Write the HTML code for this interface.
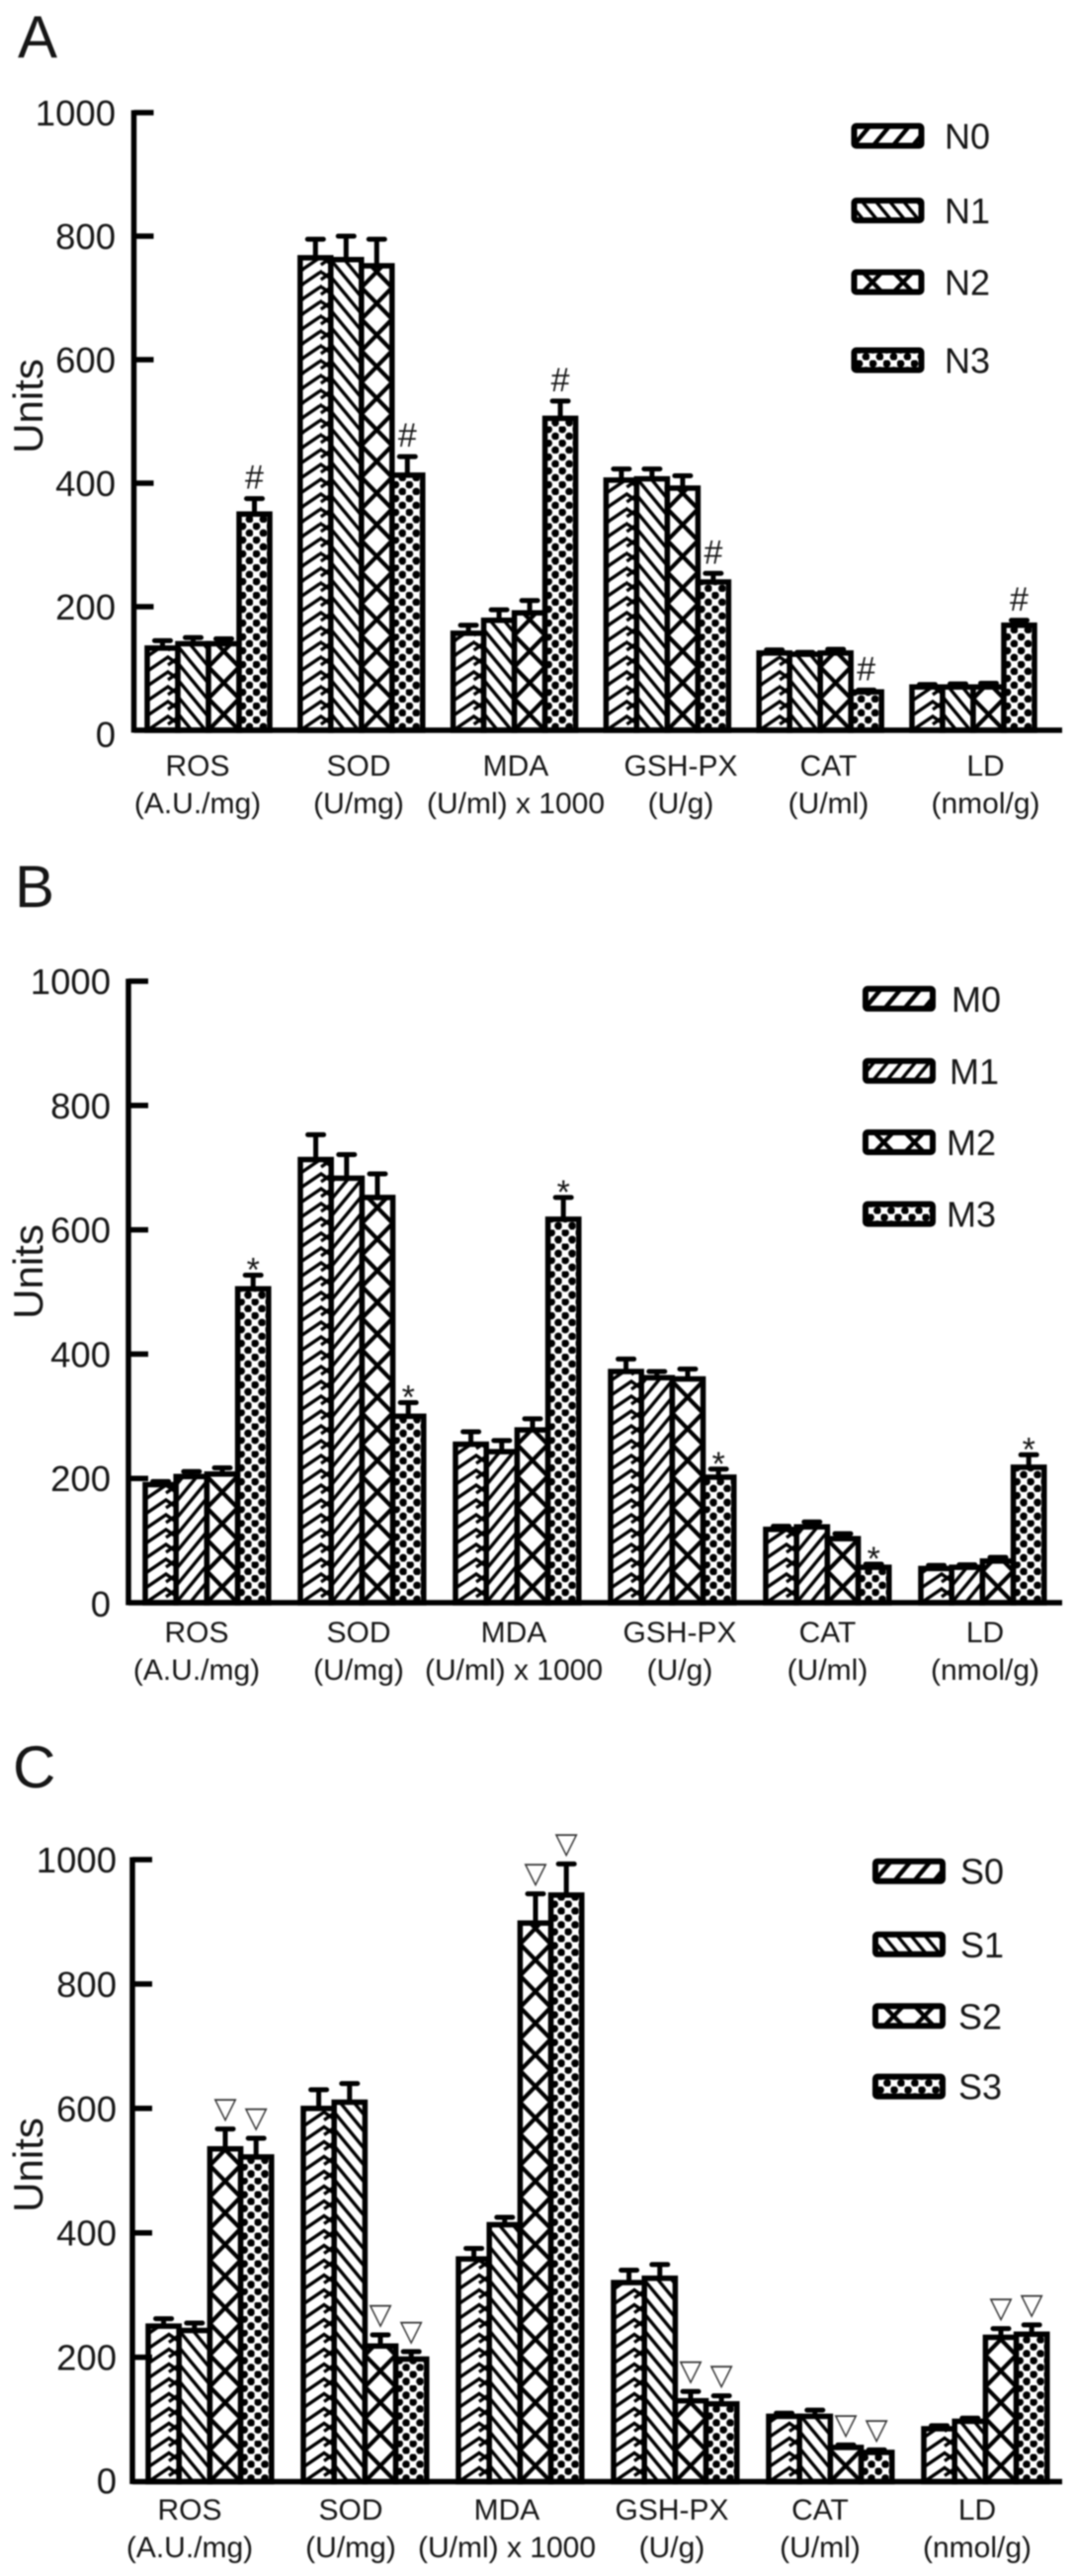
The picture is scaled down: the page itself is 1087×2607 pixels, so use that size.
<!DOCTYPE html>
<html lang="en">
<head>
<meta charset="utf-8">
<title>Units by marker, panels A, B and C</title>
<style>
  html, body { margin: 0; padding: 0; background: #fff; }
  body { width: 1087px; height: 2607px; overflow: hidden; }
  svg { display: block; filter: blur(0.7px); }
  text { font-family: "Liberation Sans", Arial, sans-serif; fill: #161616; }
</style>
</head>
<body>
<svg id="chart" xmlns="http://www.w3.org/2000/svg" width="1087" height="2607" viewBox="0 0 1087 2607">
  <defs>
    <pattern id="hatch-brick" patternUnits="userSpaceOnUse" width="30" height="15">
      <rect width="30" height="15" fill="#fff"/>
      <path d="M-1 1 L21 -14 L31 -7 M21 -6 L31 -13 M-1 16 L21 1 L31 8 M21 9 L31 2 M-1 31 L21 16 L31 23 M21 24 L31 17" fill="none" stroke="#000" stroke-width="3.4"/>
    </pattern>
    <pattern id="hatch-legend" patternUnits="userSpaceOnUse" width="20" height="24">
      <rect width="20" height="24" fill="#fff"/>
      <path d="M-10 36 L30 -12 M-10 12 L10 -12 M10 36 L30 12" fill="none" stroke="#000" stroke-width="4.4"/>
    </pattern>
    <pattern id="hatch-back" patternUnits="userSpaceOnUse" width="14" height="17">
      <rect width="14" height="17" fill="#fff"/>
      <path d="M-7 -8.5 L21 25.5 M-7 8.5 L7 25.5 M7 -8.5 L21 8.5" fill="none" stroke="#000" stroke-width="3.4"/>
    </pattern>
    <pattern id="hatch-forward" patternUnits="userSpaceOnUse" width="14" height="17">
      <rect width="14" height="17" fill="#fff"/>
      <path d="M-7 25.5 L21 -8.5 M-7 8.5 L7 -8.5 M7 25.5 L21 8.5" fill="none" stroke="#000" stroke-width="3.4"/>
    </pattern>
    <pattern id="hatch-cross" patternUnits="userSpaceOnUse" width="31" height="32">
      <rect width="31" height="32" fill="#fff"/>
      <path d="M0 0 L31 32 M31 0 L0 32" fill="none" stroke="#000" stroke-width="4.2"/>
    </pattern>
    <pattern id="hatch-dots" patternUnits="userSpaceOnUse" width="14" height="14">
      <rect width="14" height="14" fill="#fff"/>
      <circle cx="3.5" cy="3.5" r="3.9" fill="#000"/>
      <circle cx="10.5" cy="10.5" r="3.9" fill="#000"/>
    </pattern>
  </defs>
  <g id="plot-root"></g>
</svg>

<script>
// Shared labels
const categories = ['ROS', 'SOD', 'MDA', 'GSH-PX', 'CAT', 'LD'];
const categoryUnits = ['(A.U./mg)', '(U/mg)', '(U/ml) x 1000', '(U/g)', '(U/ml)', '(nmol/g)'];
const tickLabels = [0, 200, 400, 600, 800, 1000];

// Panel A
const seriesNamesA = ['N0', 'N1', 'N2', 'N3'];
const n0Values = [133, 765, 157, 405, 125, 70];
const n1Values = [140, 762, 178, 407, 123, 70];
const n2Values = [140, 752, 190, 392, 125, 70];
const n3Values = [350, 413, 505, 240, 62, 170];
const n0Errors = [12, 30, 13, 18, 5, 4];
const n1Errors = [10, 38, 17, 16, 3, 5];
const n2Errors = [8, 43, 20, 20, 6, 6];
const n3Errors = [25, 30, 28, 14, 3, 8];

// Panel B
const seriesNamesB = ['M0', 'M1', 'M2', 'M3'];
const m0Values = [190, 713, 255, 372, 118, 55];
const m1Values = [203, 683, 243, 362, 122, 57];
const m2Values = [207, 652, 278, 360, 103, 67];
const m3Values = [505, 300, 617, 202, 57, 218];
const m0Errors = [5, 40, 20, 20, 5, 5];
const m1Errors = [8, 38, 18, 10, 8, 4];
const m2Errors = [10, 38, 18, 16, 8, 6];
const m3Errors = [22, 22, 35, 13, 5, 20];

// Panel C
const seriesNamesC = ['S0', 'S1', 'S2', 'S3'];
const s0Values = [250, 600, 358, 320, 105, 85];
const s1Values = [243, 610, 413, 327, 105, 97];
const s2Values = [535, 218, 898, 130, 55, 232];
const s3Values = [522, 197, 943, 125, 47, 237];
const s0Errors = [12, 30, 17, 20, 5, 5];
const s1Errors = [12, 30, 12, 22, 10, 5];
const s2Errors = [32, 18, 47, 15, 4, 14];
const s3Errors = [30, 12, 50, 13, 4, 15];

const SVG_NS = 'http://www.w3.org/2000/svg';
const root = document.getElementById('plot-root');

function make(tag, attrs, parent) {
  const node = document.createElementNS(SVG_NS, tag);
  Object.keys(attrs).forEach(function (key) { node.setAttribute(key, attrs[key]); });
  parent.appendChild(node);
  return node;
}

const panels = [
  {
    id: 'a', letter: 'A', letterX: 18, letterY: 58,
    axisX: 135.5, axisY0: 739, axisY1000: 114, axisEnd: 1075,
    groupLeft: 149, groupPitch: 154.8, barWidth: 31,
    tickRight: 117, zeroDrop: 17, unitsY: 411,
    labelFirstY: 785, labelSecondY: 823,
    labelCentres: [200, 363, 522, 689, 838.5, 997.5],
    names: seriesNamesA,
    values: [n0Values, n1Values, n2Values, n3Values],
    errors: [n0Errors, n1Errors, n2Errors, n3Errors],
    hatches: ['hatch-brick', 'hatch-back', 'hatch-cross', 'hatch-dots'],
    legendHatches: ['hatch-legend', 'hatch-back', 'hatch-cross', 'hatch-dots'],
    marker: '#', markedSeries: [3],
    legendLeft: 864.5, legendTextX: [956, 956, 956, 956],
    legendCentres: [137.5, 213, 285.5, 364.5]
  },
  {
    id: 'b', letter: 'B', letterX: 15, letterY: 918,
    axisX: 130, axisY0: 1622, axisY1000: 993, axisEnd: 1075,
    groupLeft: 147, groupPitch: 157, barWidth: 31.2,
    tickRight: 112, zeroDrop: 14, unitsY: 1287,
    labelFirstY: 1662, labelSecondY: 1700,
    labelCentres: [199, 363, 520, 688, 837.5, 997],
    names: seriesNamesB,
    values: [m0Values, m1Values, m2Values, m3Values],
    errors: [m0Errors, m1Errors, m2Errors, m3Errors],
    hatches: ['hatch-brick', 'hatch-forward', 'hatch-cross', 'hatch-dots'],
    legendHatches: ['hatch-legend', 'hatch-forward', 'hatch-cross', 'hatch-dots'],
    marker: '*', markedSeries: [3],
    legendLeft: 876, legendTextX: [963, 961, 958, 958],
    legendCentres: [1010.8, 1083.8, 1156, 1228.6]
  },
  {
    id: 'c', letter: 'C', letterX: 13, letterY: 1809,
    axisX: 134, axisY0: 2511.5, axisY1000: 1882, axisEnd: 1075,
    groupLeft: 150, groupPitch: 157, barWidth: 31.2,
    tickRight: 118, zeroDrop: 12, unitsY: 2191,
    labelFirstY: 2550, labelSecondY: 2588,
    labelCentres: [192, 355, 513, 680, 830, 989],
    names: seriesNamesC,
    values: [s0Values, s1Values, s2Values, s3Values],
    errors: [s0Errors, s1Errors, s2Errors, s3Errors],
    hatches: ['hatch-brick', 'hatch-back', 'hatch-cross', 'hatch-dots'],
    legendHatches: ['hatch-legend', 'hatch-back', 'hatch-cross', 'hatch-dots'],
    marker: '\u25BD', markedSeries: [2, 3],
    legendLeft: 886, legendTextX: [972, 972, 970, 970],
    legendCentres: [1893.7, 1967.8, 2040.3, 2111.6]
  }
];

function yScale(panel, value) {
  return panel.axisY0 - (value / 1000) * (panel.axisY0 - panel.axisY1000);
}

function xScale(panel, groupIndex, seriesIndex) {
  return panel.groupLeft + groupIndex * panel.groupPitch + seriesIndex * panel.barWidth;
}

function markerBaseline(marker, capY) {
  if (marker === '#') return capY - 10;
  if (marker === '*') return capY + 6;
  return capY - 11;
}

function drawAxes(panel, g) {
  const yAxis = make('line', { x1: panel.axisX, x2: panel.axisX, y1: panel.axisY1000 - 2.5, y2: panel.axisY0 + 2.5, stroke: '#000', 'stroke-width': 5.5 }, g);
  
  

  const xAxis = make('line', { x1: panel.axisX, x2: panel.axisEnd, y1: panel.axisY0, y2: panel.axisY0, stroke: '#000', 'stroke-width': 5.5 }, g);
  
  

  tickLabels.forEach(function (tick) {
    const y = yScale(panel, tick);
    if (tick !== 0) {
      const mark = make('line', { x1: panel.axisX, x2: panel.axisX + 20, y1: y, y2: y, stroke: '#000', 'stroke-width': 5.5 }, g);
      
      
    }
    const label = make('text', { x: panel.tickRight, y: y + (tick === 0 ? panel.zeroDrop : 13), 'text-anchor': 'end', 'font-size': 36.5 }, g);
    label.textContent = String(tick);
    
    
  });

  const title = make('text', { x: 0, y: 0, 'text-anchor': 'middle', 'font-size': 42, transform: 'translate(43 ' + panel.unitsY + ') rotate(-90)' }, g);
  title.textContent = 'Units';
  
  

  categories.forEach(function (category, i) {
    const first = make('text', { x: panel.labelCentres[i], y: panel.labelFirstY, 'text-anchor': 'middle', 'font-size': 30 }, g);
    first.textContent = category;
    
    

    const second = make('text', { x: panel.labelCentres[i], y: panel.labelSecondY, 'text-anchor': 'middle', 'font-size': 30 }, g);
    second.textContent = categoryUnits[i];
    
    
  });
}

function drawBars(panel, g) {
  categories.forEach(function (category, groupIndex) {
    panel.values.forEach(function (seriesValues, seriesIndex) {
      const value = seriesValues[groupIndex];
      const err = panel.errors[seriesIndex][groupIndex];
      const left = xScale(panel, groupIndex, seriesIndex);
      const centre = left + panel.barWidth / 2;
      const top = yScale(panel, value);
      const capY = yScale(panel, value + err);

      const stem = make('line', { x1: centre, x2: centre, y1: capY, y2: top, stroke: '#000', 'stroke-width': 5 }, g);
      
      

      const cap = make('line', { x1: centre - 8, x2: centre + 8, y1: capY, y2: capY, stroke: '#000', 'stroke-width': 5, 'stroke-linecap': 'round' }, g);
      
      

      const barGroup = make('g', { transform: 'translate(' + left + ' ' + panel.axisY0 + ')' }, g);
      
      

      const height = panel.axisY0 - top;
      make('rect', {
        x: 0, y: -height, width: panel.barWidth, height: height,
        fill: 'url(#' + panel.hatches[seriesIndex] + ')',
        stroke: '#000', 'stroke-width': 5.5
      }, barGroup);

      if (panel.markedSeries.indexOf(seriesIndex) !== -1) {
        const isTriangle = panel.marker === '\u25BD';
        const mark = make('text', {
          x: centre, y: markerBaseline(panel.marker, capY), 'text-anchor': 'middle',
          'font-size': isTriangle ? 30 : 34,
          style: isTriangle ? 'font-family:"DejaVu Sans",sans-serif;fill:#333' : ''
        }, g);
        mark.textContent = panel.marker;
        
        
      }
    });
  });
}

function drawLegend(panel, g) {
  panel.names.forEach(function (name, i) {
    const entry = make('g', {}, g);
    
    

    const swatchGroup = make('g', { transform: 'translate(' + (panel.legendLeft - 12.5) + ' ' + panel.legendCentres[i] + ')' }, entry);
    
    
    make('rect', {
      x: 12.5, y: -10, width: 68, height: 20, rx: 2,
      fill: 'url(#' + panel.legendHatches[i] + ')', stroke: '#000', 'stroke-width': 6
    }, swatchGroup);

    const label = make('text', { x: panel.legendTextX[i], y: panel.legendCentres[i] + 13, 'font-size': 36 }, entry);
    label.textContent = name;
    
    
  });
}

panels.forEach(function (panel) {
  const g = make('g', {}, root);
  
  

  const letter = make('text', { x: panel.letterX, y: panel.letterY, 'font-size': 60 }, g);
  letter.textContent = panel.letter;
  
  

  drawBars(panel, g);
  drawAxes(panel, g);
  drawLegend(panel, g);
});
</script>
</body>
</html>
